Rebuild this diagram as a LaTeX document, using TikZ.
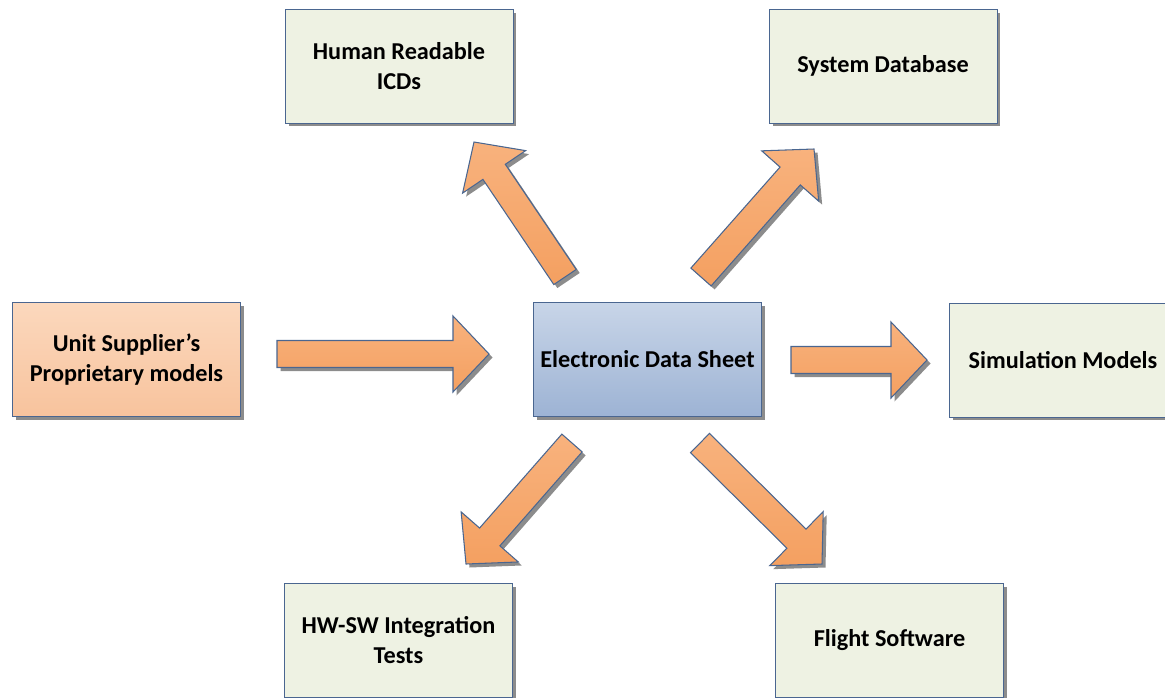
\documentclass[tikz,border=0pt]{standalone}
\usepackage{fontspec}
\setmainfont{Carlito}
\usetikzlibrary{calc,shadows}

\definecolor{boxgreen}{HTML}{EEF2E3}
\definecolor{boxline}{HTML}{4A6690}
\definecolor{peachtop}{HTML}{FBD8BD}
\definecolor{peachbot}{HTML}{F8C39D}
\definecolor{bluetop}{HTML}{C8D5E8}
\definecolor{bluebot}{HTML}{9DB3D4}
\definecolor{arrowtop}{HTML}{F8B27D}
\definecolor{arrowbot}{HTML}{F4A061}

\tikzset{
  boxshadow/.style={drop shadow={shadow xshift=0.07cm, shadow yshift=-0.07cm, opacity=0.45, fill=black}},
  box/.style={draw=boxline, fill=boxgreen, minimum width=4.56cm, minimum height=2.28cm,
    align=center, inner sep=0pt, boxshadow},
  blockarrow/.style={draw=boxline, line width=0.6pt, line join=miter, top color=arrowtop,
    bottom color=arrowbot, boxshadow}
}

\begin{document}
\begin{tikzpicture}[x=0.02cm, y=-0.02cm, font=\bfseries\fontsize{13.8}{17}\selectfont]
  \useasboundingbox (0,0) rectangle (1165,697);
  \clip (0,0) rectangle (1165,697);

  % Boxes
  \node[box] (icd) at (399,66) {Human Readable\\ICDs};
  \node[box] (sysdb) at (883,66) {System Database};
  \node[box, top color=peachtop, bottom color=peachbot] (supplier) at (126.5,359.5) {Unit Supplier's\\Proprietary models};
  \node[box, top color=bluetop, bottom color=bluebot] (eds) at (647.5,359.5) {Electronic Data Sheet};
  \node[box] (sim) at (1063,360) {Simulation Models};
  \node[box] (hwsw) at (398.5,640) {HW-SW Integration\\Tests};
  \node[box] (fsw) at (889.5,640) {Flight Software};

  % Arrow ends
  \coordinate (in-t) at (277,354);  \coordinate (in-p) at (489,354);
  \coordinate (sim-t) at (791,360); \coordinate (sim-p) at (927,360);
  \coordinate (icd-t) at (565,277); \coordinate (icd-p) at (474,142);
  \coordinate (db-t) at (701,277);  \coordinate (db-p) at (814,149);
  \coordinate (hw-t) at (572,443);  \coordinate (hw-p) at (466,564);
  \coordinate (fs-t) at (700,443);  \coordinate (fs-p) at (822,564);

  % Block arrows
  \foreach \t/\p in {in-t/in-p, sim-t/sim-p, icd-t/icd-p, db-t/db-p, hw-t/hw-p, fs-t/fs-p} {
    \coordinate (base) at ($(\p)!0.72cm!(\t)$);
    \draw[blockarrow] ($(\t)!0.27cm!90:(\p)$) -- ($(base)!0.27cm!90:(\p)$)
      -- ($(base)!0.76cm!90:(\p)$) -- (\p) -- ($(base)!0.76cm!-90:(\p)$)
      -- ($(base)!0.27cm!-90:(\p)$) -- ($(\t)!0.27cm!-90:(\p)$) -- cycle;
  }
\end{tikzpicture}
\end{document}
